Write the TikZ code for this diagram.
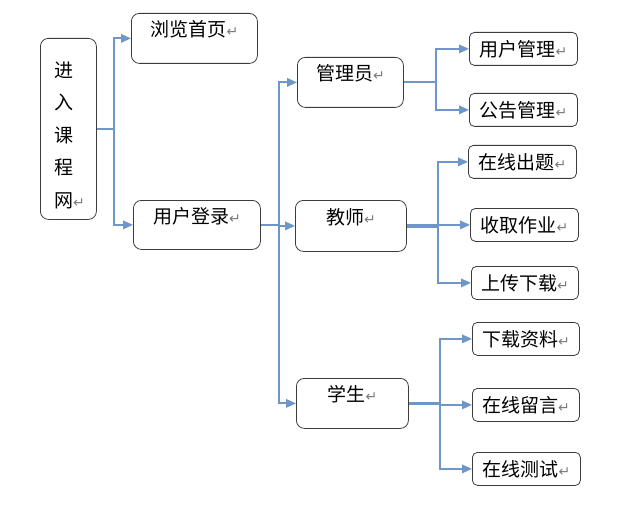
\documentclass[tikz,border=0pt]{standalone}
\usepackage{fontspec}
\setmainfont{Noto Sans CJK SC}
\newfontfamily\arrowfont{DejaVu Sans}
\usepackage{tikz}
\usetikzlibrary{arrows.meta, positioning}
\definecolor{linkblue}{HTML}{6E96C8}
\definecolor{boxgray}{HTML}{3C3C3C}
\definecolor{retgray}{HTML}{7A7A7A}
\newcommand{\ret}{{\arrowfont\fontsize{14}{14}\selectfont\color{retgray}↵}}

\begin{document}
\begin{tikzpicture}[
    x=1pt, y=-1pt,
    box/.style={draw=boxgray, line width=0.8pt, rounded corners=8pt, anchor=north west,
        inner sep=2pt, font=\fontsize{19}{21}\selectfont},
    bigbox/.style={box, text height=16pt, text depth=19.6pt},
    leaf/.style={box, rounded corners=5pt, minimum width=107pt, minimum height=33pt},
    link/.style={-{Triangle[length=10pt, width=8.5pt]}, linkblue, line width=1.9pt},
    stem/.style={linkblue, line width=3.6pt},
]
    \useasboundingbox (0,0) rectangle (632,508);

    % entry
    \node[box, minimum width=56pt, minimum height=181pt] (enter) at (40,38) {};
    \node[font=\fontsize{19}{32.5}\selectfont, align=left, anchor=west, inner sep=0pt]
        (enter-text) at (54,135) {进\\入\\课\\程\\网\ret};

    \node[bigbox, minimum width=126pt, minimum height=50pt] (browse) at (131,13) {浏览首页\ret};
    \node[bigbox, minimum width=127pt, minimum height=49pt] (login) at (133,200) {用户登录\ret};

    % roles
    \node[bigbox, minimum width=106pt, minimum height=50pt] (admin) at (297,57) {管理员\ret};
    \node[bigbox, minimum width=111pt, minimum height=51pt] (teacher) at (295,200) {教师\ret};
    \node[bigbox, minimum width=112pt, minimum height=50pt] (student) at (296,378) {学生\ret};

    % functions
    \node[leaf, minimum width=108pt] (usermgmt) at (469,32) {用户管理\ret};
    \node[leaf, minimum width=108pt] (notice) at (469,93) {公告管理\ret};
    \node[leaf, minimum width=108pt] (exam) at (468,145) {在线出题\ret};
    \node[leaf, minimum width=108pt] (homework) at (470,208) {收取作业\ret};
    \node[leaf] (updown) at (471,266) {上传下载\ret};
    \node[leaf] (download) at (472,322) {下载资料\ret};
    \node[leaf] (message) at (472,388) {在线留言\ret};
    \node[leaf, minimum width=108pt] (test) at (472,452) {在线测试\ret};

    % entry -> browse / login
    \coordinate (hub) at ([xshift=17pt]enter.east);
    \draw[link] (enter.east) -- (hub) |- (browse.west);
    \draw[link] (hub) |- (login.west);

    % login -> roles
    \coordinate (lhub) at ([xshift=18pt]login.east);
    \draw[link] (login.east) -- (lhub) |- (admin.west);
    \draw[link] (lhub) |- (teacher.west);
    \draw[link] (lhub) |- (student.west);

    % admin
    \coordinate (ahub) at ([xshift=32pt]admin.east);
    \draw[link] (admin.east) -- (ahub) |- (usermgmt.west);
    \draw[link] (ahub) |- (notice.west);

    % teacher
    \coordinate (thub) at ([xshift=31pt]teacher.east);
    \draw[stem] (teacher.east) -- (thub);
    \draw[link] (thub) |- (exam.west);
    \draw[link] (thub) |- (homework.west);
    \draw[link] (thub) |- (updown.west);

    % student
    \coordinate (shub) at ([xshift=31pt]student.east);
    \draw[stem] (student.east) -- (shub);
    \draw[link] (shub) |- (download.west);
    \draw[link] (shub) |- (message.west);
    \draw[link] (shub) |- (test.west);
\end{tikzpicture}
\end{document}
